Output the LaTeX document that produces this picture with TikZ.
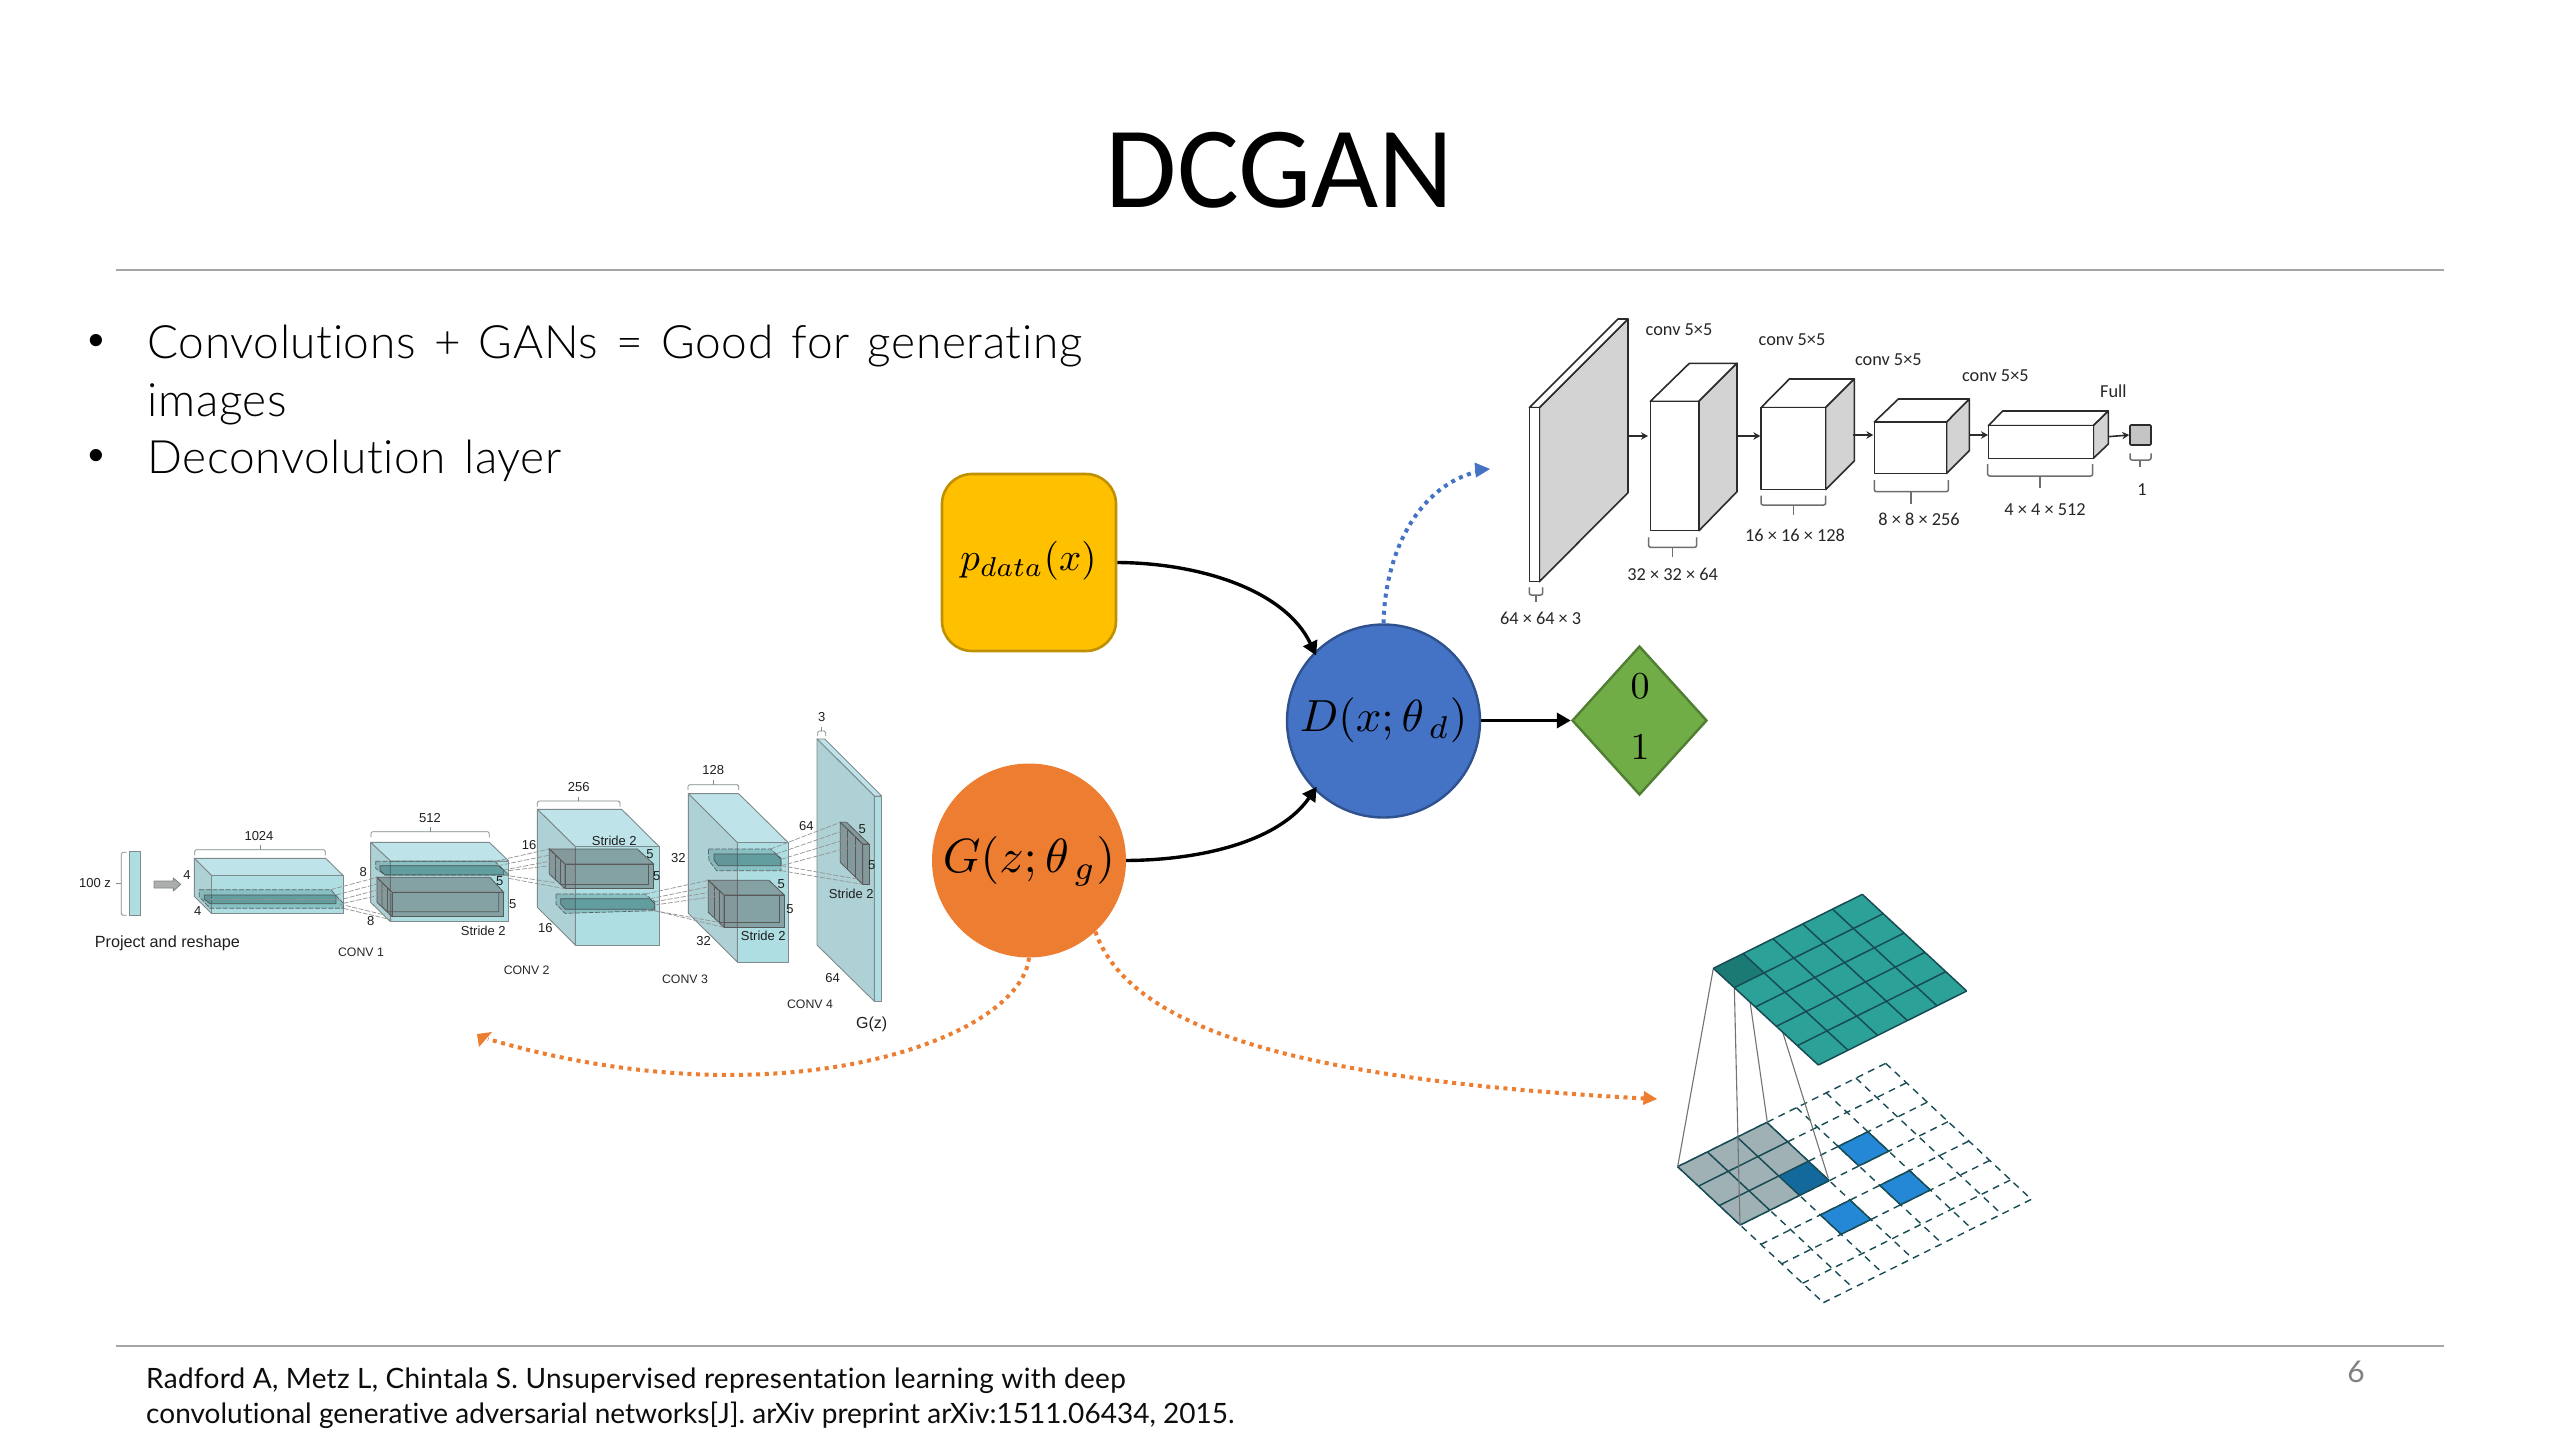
\documentclass[tikz,border=0pt]{standalone}
\usepackage{fontspec}
\setmainfont{Liberation Sans}
\newfontfamily\carl{Carlito}
\newfontfamily\bodylight[Ligatures=NoCommon,LetterSpace=1.3,WordSpace=1.4]{Lato Light}
\newfontfamily\bodyreg[Ligatures=NoCommon]{Lato}
\newfontfamily\arialf{Liberation Sans}
\usetikzlibrary{arrows.meta,shapes.geometric,calc}
\definecolor{netstroke}{HTML}{7F8A8C}
\definecolor{netfront}{HTML}{AEDEE2}
\definecolor{nettop}{HTML}{BEE3E8}
\definecolor{netleft}{HTML}{AED1D5}
\definecolor{tealgrid}{HTML}{2BA197}
\definecolor{tealdark}{HTML}{1C7A74}
\definecolor{gridline}{HTML}{184C55}
\definecolor{graycell}{HTML}{A0B1B5}
\definecolor{darkblue}{HTML}{14699C}
\definecolor{brightblue}{HTML}{2588D6}
\definecolor{discline}{HTML}{2B2B2B}
\definecolor{discgray}{HTML}{D3D3D3}
\definecolor{bracegray}{HTML}{6E6E6E}
\definecolor{rulegray}{HTML}{A6A6A6}
\definecolor{orangedot}{HTML}{ED7D31}
\definecolor{bluedot}{HTML}{4472C4}
\tikzset{
  zA/.style={shift={(60,700)},x=.33333pt,y=-.33333pt},
  zB/.style={shift={(500,700)},x=.33333pt,y=-.33333pt},
  zD/.style={shift={(1500,300)},x=.33333pt,y=-.33333pt},
  zE/.style={shift={(1850,320)},x=.33333pt,y=-.33333pt},
  zT/.style={shift={(1660,880)},x=.33333pt,y=-.33333pt},
  netline/.style={draw=netstroke,line width=.9pt,line join=round},
  bracketn/.style={draw=netstroke,line width=.8pt,rounded corners=1.5pt},
  dashlink/.style={draw=gray!85,line width=.7pt,dash pattern=on 5pt off 1.6pt},
  dslice/.style={draw=netstroke!70!black,line width=.7pt,dash pattern=on 5pt off 1.6pt,fill=teal!60!gray,fill opacity=.3},
  islice/.style={draw=netstroke!60!black,line width=.7pt,fill=teal!50!black,fill opacity=.28},
  darkface/.style={draw=black!65,line width=.8pt,fill=black!75,fill opacity=.38},
  innerline/.style={draw=black!65,line width=.7pt},
  netlab/.style={font=\arialf\fontsize{13}{15}\selectfont,text=black!88,inner sep=0pt},
  convlab/.style={font=\arialf\fontsize{12.3}{14}\selectfont,text=black!85,inner sep=0pt},
  disclab/.style={font=\carl\fontsize{18.3}{20}\selectfont,text=black!85,inner sep=0pt},
  discbox/.style={draw=discline,line width=1.6pt,line join=round},
  discbrace/.style={draw=bracegray,line width=1.5pt,rounded corners=2pt},
  discarrow/.style={draw=discline,line width=1.6pt,-{Stealth[length=7pt,width=7.5pt]}},
  mainarrow/.style={draw=black,line width=3.4pt,-{Triangle[length=14pt,width=15pt]}},
  dotarrow/.style={line width=4pt,dash pattern=on 4pt off 4.6pt},
  bullettext/.style={font=\arialf\fontsize{45}{45}\selectfont,inner sep=0pt,anchor=base},
  bodytext/.style={font=\bodylight\fontsize{46}{50}\selectfont,inner sep=0pt,anchor=base west},
  foottext/.style={font=\bodyreg\fontsize{28}{30}\selectfont,inner sep=0pt,anchor=base west,text=black!95},
  gridsolid/.style={draw=gridline,line width=1.5pt},
  griddash/.style={draw=gridline,line width=1.4pt,dash pattern=on 7pt off 5.5pt},
  linkline/.style={draw=black!55,line width=1.1pt},
}
\newcommand\tx[4]{\node[#1] (#2) at #3 {#4};}
% a b c d e f g h : back-left x, back y, back-right x, front-left x, front-top y, front-right x, front-bottom y, left-bottom y
\newcommand\netcub[8]{%
  \path[netline,fill=nettop] (#1,#2)--(#3,#2)--(#6,#5)--(#4,#5)--cycle;
  \path[netline,fill=netleft] (#1,#2)--(#4,#5)--(#4,#7)--(#1,#8)--cycle;
  \path[netline,fill=netfront] (#4,#5)--(#6,#5)--(#6,#7)--(#4,#7)--cycle;
}
\newcommand\darkcub[8]{%
  \path[darkface] (#1,#2)--(#3,#2)--(#6,#5)--(#4,#5)--cycle;
  \path[darkface] (#1,#2)--(#4,#5)--(#4,#7)--(#1,#8)--cycle;
  \path[darkface] (#4,#5)--(#6,#5)--(#6,#7)--(#4,#7)--cycle;
}
\newcommand\gp[2]{({53+89.14*(#1)+62.43*(#2)},{860-44.29*(#1)+58.29*(#2)})}
\begin{document}
\begin{tikzpicture}[x=1pt,y=-1pt]
\useasboundingbox (0,0) rectangle (2560,1440);
\fill[white] (0,0) rectangle (2560,1440);

% header / footer
\node[font=\carl\fontsize{116}{120}\selectfont,inner sep=0pt,anchor=base] (title) at (1279.5,207) {DCGAN};
\coordinate (ruleTopL) at (116,270); \coordinate (ruleTopR) at (2444,270);
\coordinate (ruleBotL) at (116,1346); \coordinate (ruleBotR) at (2444,1346);
\draw[rulegray,line width=1.6pt] (ruleTopL) -- (ruleTopR);
\draw[rulegray,line width=1.6pt] (ruleBotL) -- (ruleBotR);
\tx{bullettext}{bul1}{(96,355)}{•}
\tx{bullettext}{bul2}{(96,470)}{•}
\tx{bodytext}{body1}{(147.5,358)}{Convolutions + GANs = Good for generating}
\tx{bodytext}{body2}{(147.5,416)}{images}
\tx{bodytext}{body3}{(147.5,473)}{Deconvolution layer}
\tx{foottext}{foot1}{(146,1388)}{\addfontfeature{LetterSpace=1.0}Radford A, Metz L, Chintala S. Unsupervised representation learning with deep}
\tx{foottext}{foot2}{(146,1423)}{\addfontfeature{LetterSpace=0.1}convolutional generative adversarial networks[J]. arXiv preprint arXiv:1511.06434, 2015.}
\node[font=\bodyreg\fontsize{30}{32}\selectfont,text=black!50,inner sep=0pt] (pageno) at (2356,1372) {6};

% main nodes
\node[rounded corners=30pt,fill={rgb,255:red,255;green,192;blue,0},draw={rgb,255:red,191;green,144;blue,0},line width=2.6pt,minimum width=174pt,minimum height=177pt,inner sep=0pt] (pdata) at (1029,562.5) {};
\node[scale=3.9] (pdatal) at (1028.5,561) {$p_{data}(x)$};
\node[circle,fill={rgb,255:red,237;green,125;blue,49},minimum size=194pt,inner sep=0pt] (G) at (1029,860.5) {};
\node[scale=4.8] (Gl) at (1029,861) {$G(z;\theta_{\,g})$};
\node[circle,fill={rgb,255:red,68;green,114;blue,196},draw={rgb,255:red,47;green,82;blue,143},line width=2.4pt,minimum size=193pt,inner sep=0pt] (D) at (1383.5,721) {};
\node[scale=4.5] (Dl) at (1383.5,720) {$D(x;\theta_{\,d})$};
\node[diamond,fill={rgb,255:red,112;green,173;blue,71},draw={rgb,255:red,80;green,126;blue,50},line width=2.4pt,minimum width=135pt,minimum height=149pt,inner sep=0pt,aspect=.906] (C) at (1639.5,720.5) {};
\node[scale=3.8] (zero) at (1640,686) {$0$};
\node[scale=3.8] (one) at (1640,747) {$1$};

\draw[mainarrow,shorten >=-4pt] (pdata.east) .. controls (1200,563) and (1285,590) .. (D.135);
\draw[mainarrow,shorten >=-4pt] (G.east) .. controls (1205,860) and (1280,840) .. (D.225);
\draw[mainarrow] (D.east |- C.west) -- (C.west);

\coordinate (blueEnd) at (1490,469);
\coordinate (orLeftEnd) at (477,1034);
\coordinate (orRightEnd) at (1657,1099);
\draw[dotarrow,draw=bluedot] (D.north) .. controls (1385,550) and (1420,485) .. (1478,471.5);
\fill[bluedot] (blueEnd) -- (1474.5,462.5) -- (1476,477.5) -- cycle;
\draw[dotarrow,draw=orangedot] (G.south) .. controls (1020,1040) and (780,1125) .. (488,1039);
\fill[orangedot] (orLeftEnd) -- (492,1032) -- (479,1047) -- cycle;
\draw[dotarrow,draw=orangedot] (G.-47) .. controls (1130,1030) and (1300,1080) .. (1645,1098.5);
\fill[orangedot] (orRightEnd) -- (1644,1091) -- (1643,1105) -- cycle;

% generator network, part one
\begin{scope}[zA]
  \path[netline,fill=netfront] (209,455) rectangle (242,646);
  \path[bracketn] (200,457)--(184,457)--(184,646)--(200,646);
  \path[netline] (168,551)--(184,551);
  \tx{netlab}{l100z}{(105,548)}{100 z}
  \path[netline,fill=black!32] (282,543)--(340,543)--(340,534)--(362,553)--(340,573)--(340,564)--(282,564)--cycle;
  \tx{netlab,font=\arialf\fontsize{16.2}{18}\selectfont}{lproj}{(322,731)}{Project and reshape}
  % block 1
  \netcub{403}{475}{797}{455}{527}{850}{641}{589}
  \path[dslice] (418,569)--(812,569)--(850,610)--(850,625)--(450,625)--(418,590)--cycle;
  \path[islice] (433,585)--(828,585)--(828,611)--(450,611)--(433,598)--cycle;
  \path[dashlink] (450,598)--(840,598);
  \path[bracketn] (404,466)--(404,449)--(796,449)--(796,466);
  \path[netline] (600,449)--(600,436);
  \tx{netlab}{l1024}{(597,407)}{1024}
  \tx{netlab}{l4a}{(381,524)}{4}
  \tx{netlab}{l4b}{(413,632)}{4}
  \tx{convlab}{lc1}{(903,757)}{CONV 1}
  % block 2
  \netcub{932}{427}{1288}{991}{483}{1346}{665}{607}
  \darkcub{951}{532}{1290}{996}{577}{1331}{650}{607}
  \path[innerline] (966,548)--(966,620)--(981,635)--(1316,635)--(1316,577);
  \path[innerline] (981,562)--(981,635);
  \path[dslice] (947,484)--(1305,484)--(1346,525)--(975,525)--(947,505)--cycle;
  \path[islice] (960,497)--(1315,497)--(1331,510)--(1331,525)--(975,525)--(960,510)--cycle;
  \path[dashlink] (812,569)--(951,532);
  \path[dashlink] (828,585)--(966,548);
  \path[dashlink] (850,597)--(981,562);
  \path[dashlink] (850,610)--(996,577);
  \path[dashlink] (838,612)--(975,645);
  \path[dashlink] (850,625)--(996,660);
  \path[bracketn] (933,412)--(933,395)--(1288,395)--(1288,412);
  \path[netline] (1110,395)--(1110,382);
  \tx{netlab}{l512}{(1110,353)}{512}
  \tx{netlab}{l8a}{(910,515)}{8}
  \tx{netlab}{l8b}{(932,663)}{8}
  \tx{netlab}{lst1}{(1270,692)}{Stride 2}
  \tx{netlab}{l5a}{(1319,543)}{5}
  \tx{netlab}{l5b}{(1358,611)}{5}
\end{scope}

% generator network, part two
\begin{scope}[zB]
  % block 3
  \netcub{112}{328}{365}{226}{440}{478}{735}{622}
  \darkcub{148}{447}{412}{195}{492}{461}{566}{522}
  \path[innerline] (165,462)--(165,537);
  \path[innerline] (180,478)--(180,552)--(445,552)--(445,492);
  \path[dslice] (168,582)--(435,582)--(464,605)--(464,632)--(195,640)--(168,612)--cycle;
  \path[islice] (182,596)--(450,596)--(464,612)--(464,628)--(196,628)--(182,612)--cycle;
  \path[dashlink] (-15,484)--(148,447);
  \path[dashlink] (-5,497)--(165,462);
  \path[dashlink] (11,510)--(180,478);
  \path[dashlink] (26,512)--(195,492);
  \path[dashlink] (11,525)--(165,548);
  \path[dashlink] (26,535)--(195,566);
  \path[bracketn] (112,320)--(112,303)--(360,303)--(360,320);
  \path[netline] (236,303)--(236,290);
  \tx{netlab}{l256}{(236,262)}{256}
  \tx{netlab}{lst2}{(343,422)}{Stride 2}
  \tx{netlab}{l5c}{(450,461)}{5}
  \tx{netlab}{l5d}{(470,527)}{5}
  \tx{netlab}{l16a}{(87,434)}{16}
  \tx{netlab}{l16b}{(136,684)}{16}
  \tx{convlab}{lc2}{(80,810)}{CONV 2}
  % block 4
  \netcub{565}{281}{716}{712}{428}{865}{786}{640}
  \darkcub{625}{541}{807}{672}{585}{853}{682}{637}
  \path[innerline] (642,557)--(642,652);
  \path[innerline] (657,572)--(657,667)--(838,667)--(838,585);
  \path[dslice] (625,447)--(812,447)--(843,475)--(843,512)--(650,512)--(627,482)--cycle;
  \path[islice] (642,462)--(828,462)--(843,478)--(843,497)--(655,497)--(642,480)--cycle;
  \path[dashlink] (435,582)--(625,541);
  \path[dashlink] (450,596)--(642,557);
  \path[dashlink] (464,605)--(657,572);
  \path[dashlink] (464,615)--(672,585);
  \path[dashlink] (464,632)--(672,682);
  \path[dashlink] (440,628)--(657,667);
  \path[bracketn] (564,270)--(564,254)--(716,254)--(716,270);
  \path[netline] (640,254)--(640,241);
  \tx{netlab}{l128}{(640,211)}{128}
  \tx{netlab}{l32a}{(535,474)}{32}
  \tx{netlab}{l32b}{(611,723)}{32}
  \tx{netlab}{l5e}{(844,551)}{5}
  \tx{netlab}{l5f}{(870,627)}{5}
  \tx{netlab}{lst3}{(790,709)}{Stride 2}
  \tx{convlab}{lc3}{(555,837)}{CONV 3}
  % block 5
  \netcub{951}{117}{974}{1123}{288}{1145}{904}{735}
  \darkcub{1021}{367}{1040}{1088}{432}{1107}{553}{487}
  \path[innerline] (1042,388)--(1042,510);
  \path[innerline] (1065,410)--(1065,532);
  \path[dashlink] (812,447)--(1021,367);
  \path[dashlink] (828,462)--(1042,388);
  \path[dashlink] (843,478)--(1065,410);
  \path[dashlink] (843,497)--(1088,432);
  \path[dashlink] (843,497)--(1088,540);
  \path[dashlink] (843,512)--(1088,553);
  \path[bracketn] (953,108)--(953,93)--(977,93)--(977,108);
  \path[netline] (965,93)--(965,80);
  \tx{netlab}{l3}{(965,52)}{3}
  \tx{netlab}{l64a}{(919,377)}{64}
  \tx{netlab}{l64b}{(998,833)}{64}
  \tx{netlab}{l5g}{(1087,386)}{5}
  \tx{netlab}{l5h}{(1115,496)}{5}
  \tx{netlab}{lst4}{(1054,581)}{Stride 2}
  \tx{convlab}{lc4}{(930,914)}{CONV 4}
  \tx{netlab,font=\arialf\fontsize{16}{18}\selectfont}{lgz}{(1115,972)}{G(z)}
\end{scope}

% discriminator network, part one
\begin{scope}[zD]
  \path[discbox,fill=discgray] (118,323)--(384,57)--(384,578)--(118,845)--cycle;
  \path[discbox,fill=white] (88,323)--(118,323)--(384,57)--(354,57)--cycle;
  \path[discbox,fill=white] (88,323)--(118,323)--(118,845)--(88,845)--cycle;
  \path[discbox,fill=white] (451,304)--(597,304)--(711,190)--(568,190)--cycle;
  \path[discbox,fill=discgray] (597,304)--(711,190)--(711,575)--(597,692)--cycle;
  \path[discbox,fill=white] (451,304) rectangle (597,692);
  \path[discbox,fill=white] (783,323)--(977,323)--(1063,237)--(868,237)--cycle;
  \path[discbox,fill=discgray] (977,323)--(1063,237)--(1063,483)--(977,569)--cycle;
  \path[discbox,fill=white] (783,323) rectangle (977,569);
  \coordinate (a1s) at (384,408); \coordinate (a1e) at (444,408);
  \coordinate (a2s) at (711,408); \coordinate (a2e) at (781,408);
  \draw[discarrow] (a1s) -- (a1e);
  \draw[discarrow] (a2s) -- (a2e);
  \path[discbrace] (88,862)--(88,885)--(128,885)--(128,862);
  \path[discbrace] (108,885)--(108,905);
  \path[discbrace] (446,712)--(446,742)--(590,742)--(590,712);
  \path[discbrace] (517,742)--(517,770);
  \path[discbrace] (783,587)--(783,615)--(977,615)--(977,587);
  \path[discbrace] (880,615)--(880,645);
  \tx{disclab}{lc5a}{(537,90)}{conv 5×5}
  \tx{disclab}{lc5b}{(876,120)}{conv 5×5}
  \tx{disclab}{ld1}{(122,955)}{64 × 64 × 3}
  \tx{disclab}{ld2}{(518,822)}{32 × 32 × 64}
  \tx{disclab}{ld3}{(885,705)}{16 × 16 × 128}
\end{scope}

% discriminator network, part two
\begin{scope}[zE]
  \path[discbox,fill=white] (73,306)--(290,306)--(358,237)--(145,237)--cycle;
  \path[discbox,fill=discgray] (290,306)--(358,237)--(358,392)--(290,460)--cycle;
  \path[discbox,fill=white] (73,306) rectangle (290,460);
  \path[discbox,fill=white] (415,317)--(730,317)--(775,273)--(458,273)--cycle;
  \path[discbox,fill=discgray] (730,317)--(775,273)--(775,372)--(730,415)--cycle;
  \path[discbox,fill=white] (415,317) rectangle (730,415);
  \node[discbox,fill=discgray!93!black,rounded corners=1pt,minimum width=21pt,minimum height=20pt,inner sep=0pt] (d6) at (871.5,345) {};
  \coordinate (a3s) at (10,345); \coordinate (a3e) at (70,345);
  \coordinate (a4s) at (358,345); \coordinate (a4e) at (414,345);
  \coordinate (a5s) at (775,350);
  \draw[discarrow] (a3s) -- (a3e);
  \draw[discarrow] (a4s) -- (a4e);
  \draw[discarrow] (a5s) -- (d6.west);
  \path[discbrace] (73,480)--(73,515)--(295,515)--(295,480);
  \path[discbrace] (183,515)--(183,553);
  \path[discbrace] (413,432)--(413,468)--(728,468)--(728,432);
  \path[discbrace] (570,468)--(570,505);
  \path[discbrace] (840,400)--(840,420)--(903,420)--(903,400);
  \path[discbrace] (870,420)--(870,440);
  \tx{disclab}{lc5c}{(115,120)}{conv 5×5}
  \tx{disclab}{lc5d}{(436,168)}{conv 5×5}
  \tx{disclab}{lfull}{(790,215)}{Full}
  \tx{disclab}{lone}{(876,510)}{1}
  \tx{disclab}{ld4}{(207,598)}{8 × 8 × 256}
  \tx{disclab}{ld5}{(585,568)}{4 × 4 × 512}
\end{scope}

% transposed convolution
\begin{scope}[zT]
  \foreach \i in {0,...,7} {
    \draw[griddash] \gp{\i}{0} -- \gp{\i}{7};
    \draw[griddash] \gp{0}{\i} -- \gp{7}{\i};
  }
  \fill[graycell] \gp{0}{0} -- \gp{3}{0} -- \gp{3}{3} -- \gp{0}{3} -- cycle;
  \fill[darkblue] \gp{2}{2} -- \gp{3}{2} -- \gp{3}{3} -- \gp{2}{3} -- cycle;
  \foreach \u/\v in {4/2,4/4,2/4} {
    \path[fill=brightblue,gridsolid] \gp{\u}{\v} -- \gp{\u+1}{\v} -- \gp{\u+1}{\v+1} -- \gp{\u}{\v+1} -- cycle;
  }
  \foreach \i in {0,...,3} {
    \draw[gridsolid] \gp{\i}{0} -- \gp{\i}{3};
    \draw[gridsolid] \gp{0}{\i} -- \gp{3}{\i};
  }
  \coordinate (tL) at (160,265); \coordinate (tT) at (607,43);
  \coordinate (tR) at (920,333); \coordinate (tB) at (475,555);
  \coordinate (c1) at ($(tL)!.2!(tT)$);
  \coordinate (c2) at ($(tL)!.2!(tB)$);
  \coordinate (c3) at ($(c1)+(c2)-(tL)$);
  \coordinate (b1) at (53,860); \coordinate (b2) at (240,1035);
  \coordinate (b3) at (322,727); \coordinate (b4) at (505,895);
  \draw[linkline] (tL) -- (b1);
  \draw[linkline] (c2) -- (b2);
  \draw[linkline] (c1) -- (b3);
  \draw[linkline] (c3) -- (b4);
  \fill[tealgrid] (tL) -- (tT) -- (tR) -- (tB) -- cycle;
  \fill[tealdark] (tL) -- (c1) -- (c3) -- (c2) -- cycle;
  \foreach \i in {0,...,5} {
    \draw[gridsolid] ($(tL)!\i/5!(tT)$) -- ($(tB)!\i/5!(tR)$);
    \draw[gridsolid] ($(tL)!\i/5!(tB)$) -- ($(tT)!\i/5!(tR)$);
  }
\end{scope}
\end{tikzpicture}
\end{document}
